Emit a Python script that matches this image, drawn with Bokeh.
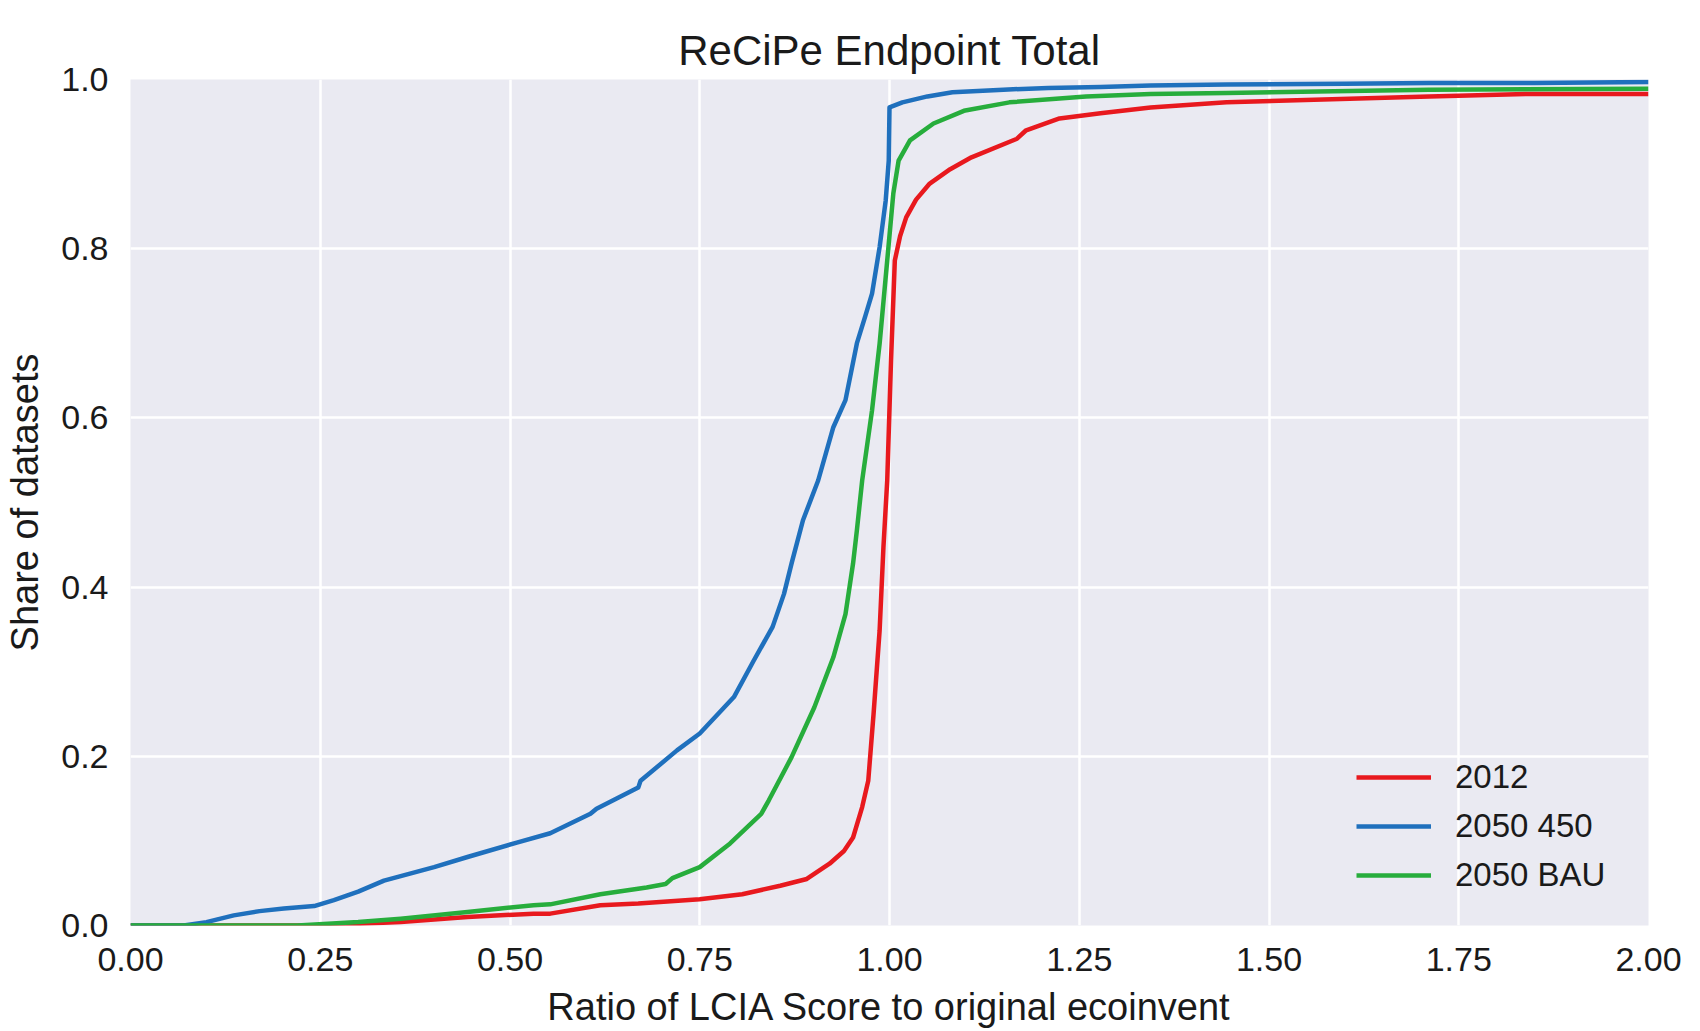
from bokeh.plotting import figure
from bokeh.models import Legend, LegendItem, FixedTicker, NumeralTickFormatter, Range1d
from bokeh.embed import file_html
from bokeh.resources import INLINE

# ---- data ----
x_2012 = [0, 0.25, 0.30, 0.356, 0.444, 0.531, 0.553, 0.619, 0.669, 0.75, 0.806, 0.856, 0.891,
          0.921, 0.940, 0.952, 0.964, 0.972, 0.979, 0.987, 0.992, 0.997, 1.002, 1.007, 1.014,
          1.022, 1.035, 1.053, 1.08, 1.108, 1.168, 1.180, 1.224, 1.278, 1.344, 1.444, 1.711,
          1.843, 2.0]
y_2012 = [0, 0, 0.002, 0.004, 0.010, 0.014, 0.014, 0.024, 0.026, 0.031, 0.037, 0.047, 0.055,
          0.073, 0.088, 0.104, 0.140, 0.171, 0.250, 0.349, 0.447, 0.526, 0.668, 0.786, 0.815,
          0.837, 0.858, 0.877, 0.894, 0.908, 0.930, 0.940, 0.954, 0.960, 0.967, 0.973, 0.980,
          0.983, 0.983]

x_2050_450 = [0, 0.07, 0.10, 0.136, 0.17, 0.202, 0.242, 0.268, 0.30, 0.334, 0.40, 0.444, 0.509,
              0.553, 0.606, 0.614, 0.669, 0.672, 0.720, 0.750, 0.795, 0.821, 0.846, 0.861, 0.871,
              0.886, 0.906, 0.926, 0.942, 0.957, 0.968, 0.977, 0.987, 0.995, 0.999, 1.000, 1.017,
              1.05, 1.083, 1.15, 1.209, 1.278, 1.344, 1.444, 1.6, 1.711, 1.85, 2.0]
y_2050_450 = [0, 0, 0.004, 0.012, 0.017, 0.020, 0.023, 0.030, 0.040, 0.053, 0.069, 0.081, 0.098,
              0.109, 0.132, 0.138, 0.163, 0.171, 0.207, 0.227, 0.270, 0.313, 0.353, 0.392, 0.428,
              0.479, 0.526, 0.589, 0.621, 0.688, 0.720, 0.747, 0.802, 0.857, 0.904, 0.967, 0.973,
              0.980, 0.985, 0.988, 0.990, 0.991, 0.993, 0.994, 0.995, 0.996, 0.996, 0.997]

x_2050_bau = [0, 0.22, 0.30, 0.356, 0.444, 0.531, 0.553, 0.619, 0.68, 0.705, 0.714, 0.750, 0.790,
              0.831, 0.841, 0.871, 0.901, 0.926, 0.942, 0.952, 0.957, 0.964, 0.977, 0.987, 0.997,
              1.005, 1.012, 1.027, 1.058, 1.098, 1.158, 1.259, 1.344, 1.444, 1.711, 2.0]
y_2050_bau = [0, 0, 0.004, 0.008, 0.016, 0.024, 0.025, 0.037, 0.045, 0.049, 0.056, 0.069, 0.097,
              0.132, 0.148, 0.199, 0.258, 0.317, 0.368, 0.428, 0.467, 0.526, 0.609, 0.688, 0.786,
              0.865, 0.904, 0.928, 0.948, 0.963, 0.973, 0.980, 0.983, 0.984, 0.988, 0.989]

series_names = ["2012", "2050 450", "2050 BAU"]
series_colors = ["#e8191e", "#1f70bd", "#27ad3c"]
x_ticks = [0, 0.25, 0.5, 0.75, 1.0, 1.25, 1.5, 1.75, 2.0]
y_ticks = [0, 0.2, 0.4, 0.6, 0.8, 1.0]

FONT = "Liberation Sans"

p = figure(width=1700, height=1031, output_backend="svg", toolbar_location=None,
           x_range=Range1d(0, 2.0), y_range=Range1d(0, 1.0),
           title="ReCiPe Endpoint Total",
           x_axis_label="Ratio of LCIA Score to original ecoinvent",
           y_axis_label="Share of datasets",
           min_border_left=130, min_border_right=52, min_border_top=79, min_border_bottom=106)

p.background_fill_color = "#eaeaf2"
p.border_fill_color = "white"
p.outline_line_color = None

p.title.text_font = FONT
p.title.text_font_size = "42px"
p.title.text_font_style = "normal"
p.title.align = "center"
p.title.text_color = "#1a1a1a"
p.title.standoff = 12

for ax in (p.xaxis[0], p.yaxis[0]):
    ax.axis_line_color = None
    ax.major_tick_line_color = None
    ax.minor_tick_line_color = None
    ax.major_label_text_font = FONT
    ax.major_label_text_font_size = "34px"
    ax.major_label_text_color = "#1a1a1a"
    ax.axis_label_text_font = FONT
    ax.axis_label_text_font_size = "38px"
    ax.axis_label_text_font_style = "normal"
    ax.axis_label_text_color = "#1a1a1a"
    ax.major_label_standoff = 16

p.xaxis.ticker = FixedTicker(ticks=x_ticks)
p.yaxis.ticker = FixedTicker(ticks=y_ticks)
p.xaxis.formatter = NumeralTickFormatter(format="0.00")
p.yaxis.formatter = NumeralTickFormatter(format="0.0")
p.xaxis.axis_label_standoff = 12
p.yaxis.axis_label_standoff = 12

p.xgrid.grid_line_color = "white"
p.ygrid.grid_line_color = "white"
p.xgrid.grid_line_width = 2.5
p.ygrid.grid_line_width = 2.5
p.xgrid.ticker = FixedTicker(ticks=x_ticks)
p.ygrid.ticker = FixedTicker(ticks=y_ticks)

renderers = []
for xs, ys, c in [(x_2012, y_2012, series_colors[0]),
                  (x_2050_450, y_2050_450, series_colors[1]),
                  (x_2050_bau, y_2050_bau, series_colors[2])]:
    r = p.line(xs, ys, line_color=c, line_width=4.5, line_join="round")
    renderers.append(r)

legend = Legend(items=[LegendItem(label=n, renderers=[r]) for n, r in zip(series_names, renderers)],
                location=(1226, 30), orientation="vertical",
                background_fill_alpha=0, border_line_color=None,
                glyph_width=75, glyph_height=40, label_height=40, label_standoff=24,
                spacing=9, padding=0, margin=0,
                label_text_font=FONT, label_text_font_size="33px", label_text_color="#1a1a1a")
p.add_layout(legend, "center")

open("out.html", "w").write(file_html(p, INLINE))
